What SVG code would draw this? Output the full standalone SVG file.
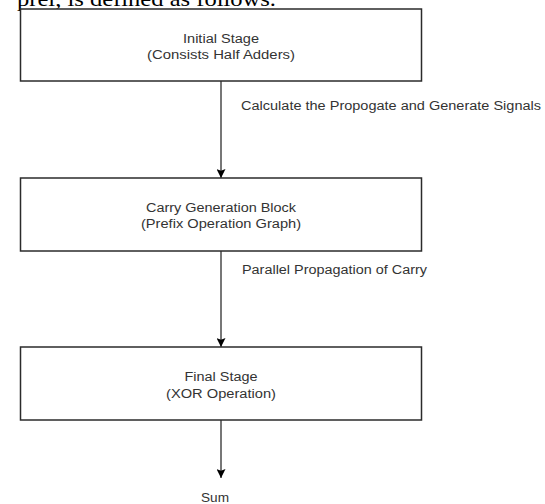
<svg xmlns="http://www.w3.org/2000/svg" width="545" height="504" viewBox="0 0 545 504">
<defs>
<style>
.box{fill:#ffffff;stroke:#2b2b2b;stroke-width:1.5}
.t{font-family:"Liberation Sans",Arial,sans-serif;font-size:12.5px;fill:#333333}
.c{text-anchor:middle}
.edge{stroke:#4a4a4a;stroke-width:1.5;fill:none}
.hdr{font-family:"Liberation Serif","Times New Roman",serif;font-size:21px;fill:#000000}
</style>
<marker id="ah" viewBox="0 0 10 10" refX="10" refY="5" markerWidth="10" markerHeight="9" markerUnits="userSpaceOnUse" orient="auto">
<path d="M0,0 L10,5 L0,10 L2,5 Z" fill="#000000"/>
</marker>
</defs>
<rect width="545" height="504" fill="#ffffff"/>
<text class="hdr" x="17" y="6" textLength="259" lengthAdjust="spacingAndGlyphs">prel, is defined as follows.</text>
<g id="connectors">
<line class="edge" x1="221" y1="81" x2="221" y2="178" marker-end="url(#ah)"/>
<line class="edge" x1="221" y1="251" x2="221" y2="347" marker-end="url(#ah)"/>
<line class="edge" x1="221" y1="420" x2="221" y2="478" marker-end="url(#ah)"/>
<text class="t" x="241" y="110" textLength="300" lengthAdjust="spacingAndGlyphs">Calculate the Propogate and Generate Signals</text>
<text class="t" x="242" y="274" textLength="185" lengthAdjust="spacingAndGlyphs">Parallel Propagation of Carry</text>
</g>
<g id="initial">
<rect class="box" x="20.5" y="9" width="401" height="72"/>
<text class="t c" x="221" y="43" textLength="76" lengthAdjust="spacingAndGlyphs">Initial Stage</text>
<text class="t c" x="221" y="59" textLength="148" lengthAdjust="spacingAndGlyphs">(Consists Half Adders)</text>
</g>
<g id="carry">
<rect class="box" x="20.5" y="178" width="401" height="73"/>
<text class="t c" x="221" y="212" textLength="150" lengthAdjust="spacingAndGlyphs">Carry Generation Block</text>
<text class="t c" x="221" y="228" textLength="160" lengthAdjust="spacingAndGlyphs">(Prefix Operation Graph)</text>
</g>
<g id="final">
<rect class="box" x="20.5" y="347" width="401" height="73"/>
<text class="t c" x="221" y="381" textLength="73" lengthAdjust="spacingAndGlyphs">Final Stage</text>
<text class="t c" x="221" y="398" textLength="110" lengthAdjust="spacingAndGlyphs">(XOR Operation)</text>
</g>
<g id="sum">
<text class="t c" x="215" y="502" textLength="28" lengthAdjust="spacingAndGlyphs">Sum</text>
</g>
</svg>
